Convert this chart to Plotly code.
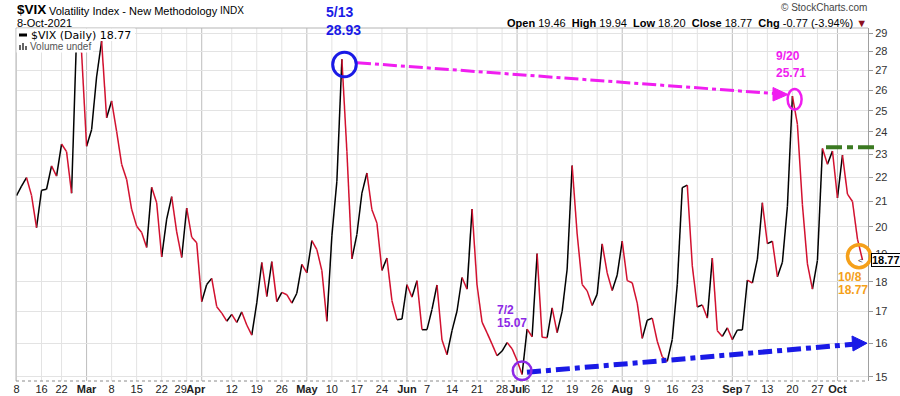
import math
import plotly.graph_objects as go

# ---------------- data ----------------
trade_dates = [
    "2021-02-08", "2021-02-09", "2021-02-10", "2021-02-11", "2021-02-12", "2021-02-16", "2021-02-17",
    "2021-02-18", "2021-02-19", "2021-02-22", "2021-02-23", "2021-02-24", "2021-02-25", "2021-02-26",
    "2021-03-01", "2021-03-02", "2021-03-03", "2021-03-04", "2021-03-05", "2021-03-08", "2021-03-09",
    "2021-03-10", "2021-03-11", "2021-03-12", "2021-03-15", "2021-03-16", "2021-03-17", "2021-03-18",
    "2021-03-19", "2021-03-22", "2021-03-23", "2021-03-24", "2021-03-25", "2021-03-26", "2021-03-29",
    "2021-03-30", "2021-03-31",
    "2021-04-01", "2021-04-05", "2021-04-06", "2021-04-07", "2021-04-08", "2021-04-09", "2021-04-12",
    "2021-04-13", "2021-04-14", "2021-04-15", "2021-04-16", "2021-04-19", "2021-04-20", "2021-04-21",
    "2021-04-22", "2021-04-23", "2021-04-26", "2021-04-27", "2021-04-28", "2021-04-29", "2021-04-30",
    "2021-05-03", "2021-05-04", "2021-05-05", "2021-05-06", "2021-05-07", "2021-05-10", "2021-05-11",
    "2021-05-12", "2021-05-13", "2021-05-14", "2021-05-17", "2021-05-18", "2021-05-19", "2021-05-20",
    "2021-05-21", "2021-05-24", "2021-05-25", "2021-05-26", "2021-05-27", "2021-05-28",
    "2021-06-01", "2021-06-02", "2021-06-03", "2021-06-04", "2021-06-07", "2021-06-08", "2021-06-09",
    "2021-06-10", "2021-06-11", "2021-06-14", "2021-06-15", "2021-06-16", "2021-06-17", "2021-06-18",
    "2021-06-21", "2021-06-22", "2021-06-23", "2021-06-24", "2021-06-25", "2021-06-28", "2021-06-29",
    "2021-06-30",
    "2021-07-01", "2021-07-02", "2021-07-06", "2021-07-07", "2021-07-08", "2021-07-09", "2021-07-12",
    "2021-07-13", "2021-07-14", "2021-07-15", "2021-07-16", "2021-07-19", "2021-07-20", "2021-07-21",
    "2021-07-22", "2021-07-23", "2021-07-26", "2021-07-27", "2021-07-28", "2021-07-29", "2021-07-30",
    "2021-08-02", "2021-08-03", "2021-08-04", "2021-08-05", "2021-08-06", "2021-08-09", "2021-08-10",
    "2021-08-11", "2021-08-12", "2021-08-13", "2021-08-16", "2021-08-17", "2021-08-18", "2021-08-19",
    "2021-08-20", "2021-08-23", "2021-08-24", "2021-08-25", "2021-08-26", "2021-08-27", "2021-08-30",
    "2021-08-31",
    "2021-09-01", "2021-09-02", "2021-09-03", "2021-09-07", "2021-09-08", "2021-09-09", "2021-09-10",
    "2021-09-13", "2021-09-14", "2021-09-15", "2021-09-16", "2021-09-17", "2021-09-20", "2021-09-21",
    "2021-09-22", "2021-09-23", "2021-09-24", "2021-09-27", "2021-09-28", "2021-09-29", "2021-09-30",
    "2021-10-01", "2021-10-04", "2021-10-05", "2021-10-06", "2021-10-07", "2021-10-08",
]

vix_close = [
    21.24, 21.63, 21.99, 21.25, 19.97, 21.46, 21.50, 22.49, 22.05, 23.45, 23.11, 21.34, 28.89, 27.95,
    23.35, 24.10, 26.67, 28.57, 24.66, 25.47, 24.03, 22.56, 21.91, 20.69, 20.03, 19.79, 19.23, 21.58,
    20.95, 18.88, 20.30, 21.20, 19.81, 18.86, 20.74, 19.61, 19.40,
    17.33, 17.91, 18.12, 17.16, 16.95, 16.69, 16.91, 16.65, 16.99, 16.57, 16.25, 17.29, 18.68, 17.50,
    18.71, 17.33, 17.64, 17.56, 17.28, 17.61, 18.61,
    18.31, 19.48, 19.15, 18.39, 16.69, 19.66, 21.84, 27.59, 23.13, 18.81, 19.72, 21.34, 22.18, 20.67,
    20.15, 18.40, 18.84, 17.36, 16.74, 16.76,
    17.90, 17.48, 18.04, 16.42, 16.42, 17.07, 17.89, 16.10, 15.65, 16.39, 17.02, 18.15, 17.75, 20.70,
    17.89, 16.66, 16.32, 15.97, 15.62, 15.76, 16.02, 15.83,
    15.48, 15.07, 16.44, 16.20, 19.00, 16.18, 16.17, 17.12, 16.33, 17.01, 18.45, 22.50, 19.73, 17.91,
    17.69, 17.20, 17.58, 19.36, 18.31, 17.70, 18.24,
    19.46, 18.04, 17.97, 17.28, 16.15, 16.72, 16.79, 16.06, 15.59, 15.45, 16.12, 17.91, 21.57, 21.67,
    18.56, 17.15, 17.22, 16.79, 18.84, 16.39, 16.21, 16.48,
    16.11, 16.41, 16.41, 18.06, 17.96, 18.80, 20.95, 19.37, 19.46, 18.18, 18.69, 20.81, 25.71, 24.36,
    20.87, 18.63, 17.75, 18.76, 23.25, 22.56, 23.14,
    21.15, 22.96, 21.30, 21.00, 19.54, 18.77,
]

tick_dates = [
    "2021-02-08", "2021-02-16", "2021-02-22", "2021-03-01", "2021-03-08", "2021-03-15", "2021-03-22",
    "2021-03-29", "2021-04-01", "2021-04-12", "2021-04-19", "2021-04-26", "2021-05-03", "2021-05-10",
    "2021-05-17", "2021-05-24", "2021-06-01", "2021-06-07", "2021-06-14", "2021-06-21", "2021-06-28",
    "2021-07-01", "2021-07-06", "2021-07-12", "2021-07-19", "2021-07-26", "2021-08-02", "2021-08-09",
    "2021-08-16", "2021-08-23", "2021-09-01", "2021-09-07", "2021-09-13", "2021-09-20", "2021-09-27",
    "2021-10-01",
]
tick_labels = [
    "8", "16", "22", "Mar", "8", "15", "22", "29", "Apr", "12", "19", "26", "May", "10", "17", "24",
    "Jun", "7", "14", "21", "28", "Jul", "6", "12", "19", "26", "Aug", "9", "16", "23", "Sep", "7",
    "13", "20", "27", "Oct",
]
month_labels = ["Mar", "Apr", "May", "Jun", "Jul", "Aug", "Sep", "Oct"]
y_ticks = list(range(15, 30))

peak_date, sep_date, low_date, last_date = "2021-05-12", "2021-09-20", "2021-07-02", "2021-10-08"

# ---------------- layout helpers ----------------
W, H = 900, 396
ML, MR, MT, MB = 16, 32, 28, 15
PW, PH = W - ML - MR, H - MT - MB
FONT = "Liberation Sans, Arial, sans-serif"
X_RANGE = [-0.1, 170.1]
Y_RANGE = [math.log10(14.88), math.log10(29.3)]
PX_PER_IDX = PW / (X_RANGE[1] - X_RANGE[0])
PX_PER_DEC = PH / (Y_RANGE[1] - Y_RANGE[0])


def px(x):
    return (x - ML) / PW


def py(y):
    return (H - MB - y) / PH


pos = {d: i for i, d in enumerate(trade_dates)}
xs = list(range(len(trade_dates)))

up_x, up_y, dn_x, dn_y = [], [], [], []
for i in range(1, len(xs)):
    if vix_close[i] >= vix_close[i - 1]:
        up_x += [xs[i - 1], xs[i], None]
        up_y += [vix_close[i - 1], vix_close[i], None]
    else:
        dn_x += [xs[i - 1], xs[i], None]
        dn_y += [vix_close[i - 1], vix_close[i], None]

fig = go.Figure()
fig.add_trace(go.Scatter(x=up_x, y=up_y, mode="lines", line=dict(color="#000000", width=1.5),
                         hoverinfo="skip", connectgaps=False))
fig.add_trace(go.Scatter(x=dn_x, y=dn_y, mode="lines", line=dict(color="#d2112f", width=1.5),
                         hoverinfo="skip", connectgaps=False))

label_shift = {"2021-03-29": -1.2, "2021-04-01": -1.2}
tick_pos = [pos[d] + label_shift.get(d, 0) for d in tick_dates]
tick_text = [f"<b>{t}</b>" if t in month_labels else t for t in tick_labels]

shapes = []
for d, lab in zip(tick_dates, tick_labels):
    col = "#bdbdbd" if lab in month_labels else "#e3e3e3"
    shapes.append(dict(type="line", xref="x", yref="paper", x0=pos[d], x1=pos[d], y0=0, y1=1,
                       line=dict(color=col, width=1), layer="below"))
shapes.append(dict(type="line", xref="paper", yref="paper", x0=0, x1=1, y0=1, y1=1,
                   line=dict(color="#b4b4b4", width=1)))
shapes.append(dict(type="line", xref="paper", yref="paper", x0=0, x1=0, y0=0, y1=1,
                   line=dict(color="#b4b4b4", width=1)))
shapes.append(dict(type="line", xref="paper", yref="paper", x0=0, x1=1, y0=0, y1=0,
                   line=dict(color="#8a8a8a", width=1, dash="dot")))

# legend background + icons
shapes.append(dict(type="rect", xref="paper", yref="paper", x0=px(16.5), x1=px(135), y0=py(41), y1=py(28.5),
                   fillcolor="white", line=dict(width=0), layer="above"))
shapes.append(dict(type="rect", xref="paper", yref="paper", x0=px(16.5), x1=px(93), y0=py(52.5), y1=py(41),
                   fillcolor="white", line=dict(width=0), layer="above"))
shapes.append(dict(type="line", xref="paper", yref="paper", x0=px(19), x1=px(27), y0=py(35), y1=py(35),
                   line=dict(color="black", width=3), layer="above"))
for (a, b, top) in [(19, 21, 45), (22, 24, 43), (25, 27, 46)]:
    shapes.append(dict(type="rect", xref="paper", yref="paper", x0=px(a), x1=px(b), y0=py(50), y1=py(top),
                       fillcolor="#666666", line=dict(width=0), layer="above"))

MAG = "#f01ef0"
BLUE = "#1a1ae6"
PURPLE = "#8c28e6"
ORANGE = "#f5a01a"
shapes.append(dict(type="line", xref="paper", yref="paper", x0=px(357), y0=py(62.7), x1=px(774), y1=py(93.5),
                   line=dict(color=MAG, width=3, dash="14px,4px,4px,4px")))
shapes.append(dict(type="path", xref="paper", yref="paper",
                   path=f"M {px(788)},{py(94.5)} L {px(773)},{py(87.5)} L {px(773)},{py(101)} Z",
                   fillcolor=MAG, line=dict(color=MAG, width=1)))
shapes.append(dict(type="line", xref="paper", yref="paper", x0=px(527), y0=py(372.3), x1=px(853), y1=py(344.3),
                   line=dict(color=BLUE, width=5, dash="14px,5px,5px,5px")))
shapes.append(dict(type="path", xref="paper", yref="paper",
                   path=f"M {px(867)},{py(343.2)} L {px(852)},{py(336)} L {px(853)},{py(351)} Z",
                   fillcolor=BLUE, line=dict(color=BLUE, width=1)))
shapes.append(dict(type="line", xref="paper", yref="paper", x0=px(826), y0=py(147.3), x1=px(876), y1=py(147.3),
                   line=dict(color="#3b7a22", width=4, dash="16px,5px,6px,5px")))


def ring(date, color, rx, ry, dx, dy, width):
    i = pos[date]
    cx = i + dx / PX_PER_IDX
    cy = math.log10(vix_close[i]) - dy / PX_PER_DEC
    return dict(type="circle", xref="x", yref="y",
                x0=cx - rx / PX_PER_IDX, x1=cx + rx / PX_PER_IDX,
                y0=10 ** (cy - ry / PX_PER_DEC), y1=10 ** (cy + ry / PX_PER_DEC),
                line=dict(color=color, width=width), fillcolor="rgba(0,0,0,0)", layer="above")


shapes.append(ring(peak_date, BLUE, 11.8, 12.3, 2.6, 5.2, 3))
shapes.append(ring(sep_date, MAG, 7, 10.3, 2.2, 3.2, 2.5))
shapes.append(ring(low_date, PURPLE, 9.3, 9.3, 0, -3.6, 2.5))
cy_last = math.log10(vix_close[pos[last_date]]) + 3.8 / PX_PER_DEC
shapes.append(dict(type="circle", xref="paper", yref="y",
                   x0=px(859 - 11.5), x1=px(859 + 11.5),
                   y0=10 ** (cy_last - 11.5 / PX_PER_DEC), y1=10 ** (cy_last + 11.5 / PX_PER_DEC),
                   line=dict(color=ORANGE, width=3.5), fillcolor="rgba(0,0,0,0)", layer="above"))

ann = []


def text(x, y, s, size=11, color="#000", xanchor="left", family=FONT):
    ann.append(dict(xref="paper", yref="paper", x=px(x), y=py(y), text=s, showarrow=False,
                    xanchor=xanchor, yanchor="middle", font=dict(size=size, color=color, family=family)))


text(15, 10, "<b>$VIX</b>", 13.5)
text(47, 10.5, "Volatility Index - New Methodology", 11)
text(218, 11, "INDX", 10)
text(15, 22.5, "8-Oct-2021", 11)
text(869, 7.5, "© StockCharts.com", 10, "#444", "right")
text(869, 23, "<b>Open</b> 19.46  <b>High</b> 19.94  <b>Low</b> 18.20  <b>Close</b> 18.77  "
              "<b>Chg</b> -0.77 (-3.94%) <span style='color:#8b1020'>▼</span>", 11, "#000", "right")
text(29, 35, "$VIX (Daily) 18.77", 11, "#000", "left", "DejaVu Sans, Verdana, sans-serif")
text(28, 46.5, "Volume undef", 10, "#555")

text(324, 12.5, "<b>5/13</b>", 14, BLUE)
text(324, 29.5, "<b>28.93</b>", 14, BLUE)
text(774, 56, "<b>9/20</b>", 12, MAG)
text(774, 73, "<b>25.71</b>", 12, MAG)
text(495, 310, "<b>7/2</b>", 12, PURPLE)
text(495, 323, "<b>15.07</b>", 12, PURPLE)
text(836, 277, "<b>10/8</b>", 12, ORANGE)
text(836, 290, "<b>18.77</b>", 12, ORANGE)

last_val = vix_close[-1]
ann.append(dict(xref="paper", yref="y", x=1, y=math.log10(last_val), xanchor="left", yanchor="middle",
                xshift=3, text=f"<b>{last_val:.2f}</b>", showarrow=False, bgcolor="white",
                bordercolor="black", borderwidth=1, borderpad=0,
                font=dict(size=11, color="black", family=FONT)))
ann.append(dict(xref="paper", yref="y", x=1, y=math.log10(last_val), xanchor="right", yanchor="middle",
                xshift=-3, text="&lt;", showarrow=False, font=dict(size=8, color="#333", family=FONT)))

fig.update_layout(
    width=W, height=H, margin=dict(l=ML, r=MR, t=MT, b=MB, pad=0),
    paper_bgcolor="white", plot_bgcolor="white", showlegend=False,
    font=dict(family=FONT, size=11, color="#222"),
    xaxis=dict(range=X_RANGE, tickmode="array", tickvals=tick_pos, ticktext=tick_text, tickangle=0,
               showgrid=False, zeroline=False, showline=False, ticks="", automargin=False,
               tickfont=dict(size=11, color="#222", family=FONT), fixedrange=True),
    yaxis=dict(type="log", range=Y_RANGE, side="right",
               tickmode="array", tickvals=y_ticks, ticktext=[str(v) for v in y_ticks],
               showgrid=True, gridcolor="#e3e3e3", gridwidth=1, zeroline=False,
               showline=True, linecolor="#a0a0a0", linewidth=1, ticks="outside", ticklen=4,
               tickcolor="#999", automargin=False, tickfont=dict(size=11, color="#333", family=FONT),
               fixedrange=True),
    shapes=shapes, annotations=ann,
)

fig.write_html("out.html", config={"displayModeBar": False},
               post_script="document.body.style.margin='0px';document.body.style.padding='0px';"
                           "document.documentElement.style.overflow='hidden';")
